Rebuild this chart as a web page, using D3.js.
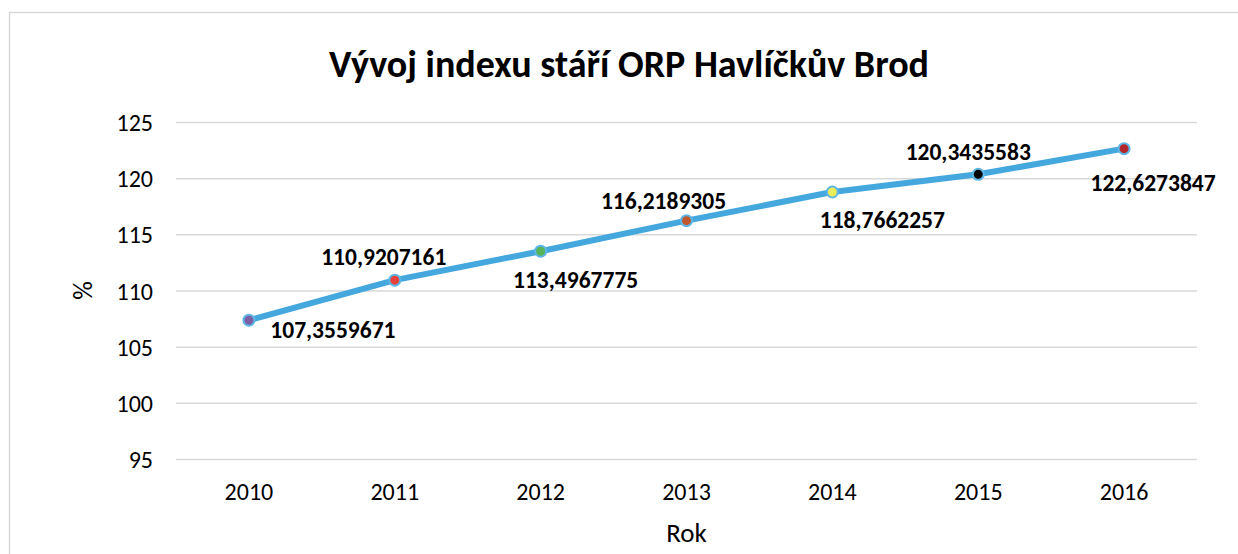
<!DOCTYPE html>
<html>
<head>
<meta charset="utf-8">
<script src="https://cdn.jsdelivr.net/npm/d3@7"></script>
<style>
  body { margin: 0; background: #fff; }
  text { font-family: Carlito, Lato, "Open Sans", sans-serif; fill: #000; }
</style>
</head>
<body>
<div id="chart"></div>
<script>
var years = ["2010", "2011", "2012", "2013", "2014", "2015", "2016"];
var values = [107.3559671, 110.9207161, 113.4967775, 116.2189305, 118.7662257, 120.3435583, 122.6273847];
var labels = ["107,3559671", "110,9207161", "113,4967775", "116,2189305", "118,7662257", "120,3435583", "122,6273847"];
var markerColors = ["#7d5fa6", "#e8403a", "#55b35a", "#c0582b", "#ecec5a", "#000000", "#b3262a"];
var yTicks = [95, 100, 105, 110, 115, 120, 125];

var lineColor = "#44a8df",
    gridColor = "#d9d9d9";

var width = 1238, height = 554,
    margin = {left: 176, right: 41, top: 122, bottom: 95};

var svg = d3.select("#chart").append("svg")
    .attr("width", width)
    .attr("height", height);

// chart frame (runs off the right and bottom of the picture)
svg.append("rect")
    .attr("x", 9.5).attr("y", 12.5)
    .attr("width", width + 20).attr("height", height + 20)
    .style("fill", "none")
    .style("stroke", gridColor)
    .style("stroke-width", 1.5);

var x = d3.scaleBand()
    .domain(years)
    .range([margin.left, width - margin.right])
    .paddingInner(0).paddingOuter(0);

var y = d3.scaleLinear()
    .domain([95, 125])
    .range([height - margin.bottom, margin.top]);

var cx = function (d, i) { return x(years[i]) + x.bandwidth() / 2; };

// gridlines + y labels
var yAxis = svg.append("g")
    .attr("transform", "translate(" + margin.left + ",0)")
    .call(d3.axisLeft(y).tickValues(yTicks)
        .tickSize(-(width - margin.left - margin.right))
        .tickPadding(23));
yAxis.select(".domain").remove();
yAxis.selectAll(".tick line").style("stroke", gridColor).style("stroke-width", 1.5);
yAxis.selectAll(".tick text")
    .style("font-size", "24px")
    .attr("dy", "0.36em");

// x labels
var xAxis = svg.append("g")
    .attr("transform", "translate(0," + (height - margin.bottom) + ")")
    .call(d3.axisBottom(x).tickSize(0).tickPadding(24));
xAxis.select(".domain").remove();
xAxis.selectAll(".tick text").style("font-size", "24px");

// line
var line = d3.line()
    .x(cx)
    .y(function (d) { return y(d); });

svg.append("path")
    .datum(values)
    .attr("d", line)
    .style("fill", "none")
    .style("stroke", lineColor)
    .style("stroke-width", 6)
    .style("stroke-linecap", "round")
    .style("stroke-linejoin", "round");

svg.selectAll("circle.marker")
    .data(values)
    .enter().append("circle")
    .attr("class", "marker")
    .attr("cx", cx)
    .attr("cy", function (d) { return y(d); })
    .attr("r", 5.5)
    .style("fill", function (d, i) { return markerColors[i]; })
    .style("stroke", "#5db6e6")
    .style("stroke-width", 2);

// data labels, moved by hand in the original: offset from each marker
var labelDx = [84, -11, 35, -23, 50, -10, 29];
var labelDy = [18, -15, 37, -12, 36, -14, 42];
svg.selectAll("text.dlabel")
    .data(values)
    .enter().append("text")
    .attr("class", "dlabel")
    .attr("x", function (d, i) { return cx(d, i) + labelDx[i]; })
    .attr("y", function (d, i) { return y(d) + labelDy[i]; })
    .attr("text-anchor", "middle")
    .style("font-size", "23.5px")
    .style("font-weight", "bold")
    .text(function (d, i) { return labels[i]; });

// titles
svg.append("text")
    .attr("x", 629).attr("y", 77)
    .attr("text-anchor", "middle")
    .style("font-size", "38px")
    .style("font-weight", "bold")
    .text("Vývoj indexu stáří ORP Havlíčkův Brod");

svg.append("text")
    .attr("x", (margin.left + width - margin.right) / 2)
    .attr("y", 542)
    .attr("text-anchor", "middle")
    .style("font-size", "27px")
    .text("Rok");

svg.append("text")
    .attr("transform", "translate(92," + y(110) + ") rotate(-90)")
    .attr("text-anchor", "middle")
    .style("font-size", "26px")
    .text("%");
</script>
</body>
</html>
